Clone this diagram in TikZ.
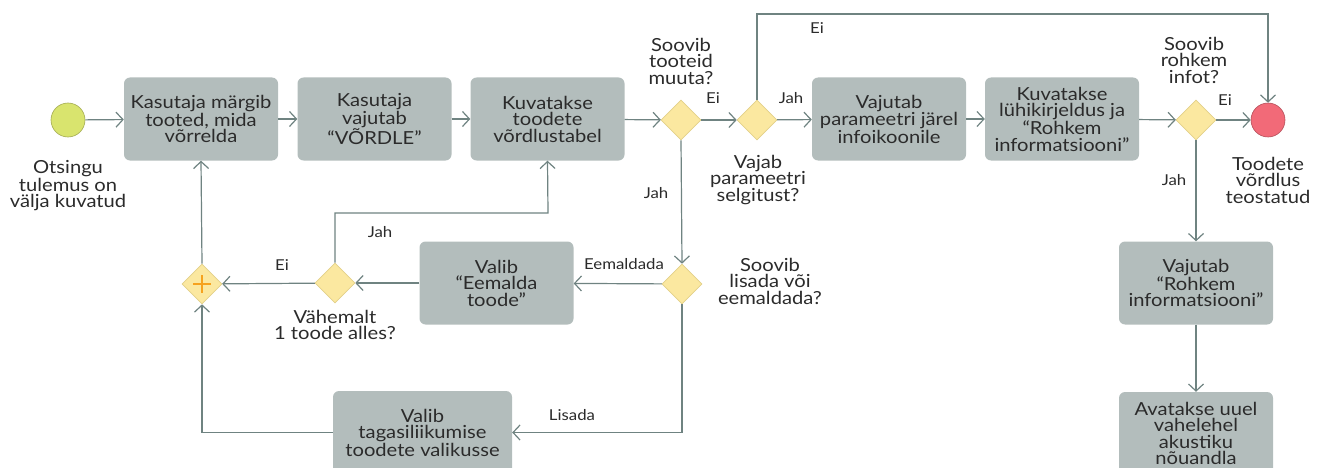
\documentclass[tikz,border=0pt]{standalone}
\usepackage{fontspec}
\setmainfont{Lato}[FakeStretch=1.12]
\usetikzlibrary{shapes.geometric,arrows.meta}
\definecolor{boxgray}{HTML}{B3BDBC}
\definecolor{linegray}{HTML}{6F8381}
\definecolor{gatefill}{HTML}{FBE8A0}
\definecolor{gateline}{HTML}{E2D08A}
\definecolor{startfill}{HTML}{D9E46E}
\definecolor{endfill}{HTML}{F26A78}
\definecolor{plusorange}{HTML}{F6A21E}
\definecolor{txt}{HTML}{2B2B2B}
\begin{document}
\begin{tikzpicture}[
			x=1pt, y=-1pt,
			task/.style={rectangle, rounded corners=6pt, fill=boxgray, minimum width=154pt, minimum height=83pt, align=center, inner sep=0pt, font=\fontsize{18}{16.5}\selectfont, text=txt},
			gate/.style={diamond, aspect=1, minimum size=40pt, inner sep=0pt, fill=gatefill, draw=gateline, line width=0.6pt},
			event/.style={circle, minimum size=34pt, inner sep=0pt, fill=#1, draw=#1!75!black, line width=0.6pt},
			note/.style={align=center, font=\fontsize{18}{16.5}\selectfont, text=txt},
			lbl/.style={font=\fontsize{15}{16}\selectfont, text=txt},
			flow/.style={draw=linegray, line width=1.2pt, -{Straight Barb[length=7pt,width=15pt]}},
			plusmark/.style={draw=plusorange, line width=2.6pt}
		]
		\useasboundingbox (0,0) rectangle (1324,468);

		\node[event=startfill] (start) at (68,120) {};
		\node[note] (startnote) at (68,186) {Otsingu\\tulemus on\\välja kuvatud};
		\node[task] (mark) at (201,119) {Kasutaja märgib\\tooted, mida\\võrrelda};
		\node[task] (press) at (374.5,119) {Kasutaja\\vajutab\\“VÕRDLE”};
		\node[task] (table) at (547.5,119) {Kuvatakse\\toodete\\võrdlustabel};
		\node[gate] (change) at (681,120) {};
		\node[note] (changenote) at (681,61) {Soovib\\tooteid\\muuta?};
		\node[gate] (explain) at (757,120) {};
		\node[note] (explainnote) at (758,180) {Vajab\\parameetri\\selgitust?};
		\node[task] (infoicon) at (889,119) {Vajutab\\parameetri järel\\infoikoonile};
		\node[task] (summary) at (1062,119) {Kuvatakse\\lühikirjeldus ja\\“Rohkem\\informatsiooni”};
		\node[gate] (more) at (1196,120) {};
		\node[note] (morenote) at (1194,60) {Soovib\\rohkem\\infot?};
		\node[event=endfill] (done) at (1268,120) {};
		\node[note] (donenote) at (1268,180) {Toodete\\võrdlus\\teostatud};
		\node[task] (moreinfo) at (1196,283) {Vajutab\\“Rohkem\\informatsiooni”};
		\node[task] (newtab) at (1196,433.5) {Avatakse uuel\\vahelehel\\akustiku\\nõuandla};

		\node[gate] (addremove) at (682,284) {};
		\node[note] (addremovenote) at (770,281) {Soovib\\lisada või\\eemaldada?};
		\node[task] (remove) at (496.5,283) {Valib\\“Eemalda\\toode”};
		\node[gate] (left) at (335,283) {};
		\node[note] (leftnote) at (335,325) {Vähemalt\\1 toode alles?};
		\node[gate] (merge) at (202,284) {};
		\node[task, minimum width=179pt] (goback) at (422.5,432.5) {Valib\\tagasiliikumise\\toodete valikusse};

		\draw[plusmark] (merge.center) ++(-9,0) -- ++(18,0);
		\draw[plusmark] (merge.center) ++(0,-9) -- ++(0,18);

		\coordinate (skip) at (757,14);
		\coordinate (back) at (548,213);

		\draw[flow] (start) -- (mark);
		\draw[flow] (mark) -- (press);
		\draw[flow] (press) -- (table);
		\draw[flow] (table) -- (change);
		\draw[flow] (change) -- (explain);
		\draw[flow] (explain) -- (infoicon);
		\draw[flow] (infoicon) -- (summary);
		\draw[flow] (summary) -- (more);
		\draw[flow] (more) -- (done);
		\draw[flow] (explain.north) -- (skip) -| (done.north);
		\draw[flow] (more.south) -- (moreinfo.north);
		\draw[flow] (moreinfo) -- (newtab);
		\draw[flow] (change.south) -- (addremove.north);
		\draw[flow] (addremove) -- (remove);
		\draw[flow] (remove) -- (left);
		\draw[flow] (left) -- (merge);
		\draw[flow] (left.north) |- (back) -- (table.south);
		\draw[flow] (addremove.south) |- (goback.east);
		\draw[flow] (goback.west) -| (merge.south);
		\draw[flow] (merge.north) -- (mark.south);

		\node[lbl] (eione) at (713,98) {Ei};
		\node[lbl] (jahone) at (791,98) {Jah};
		\node[lbl] (eitwo) at (817,28) {Ei};
		\node[lbl] (eithree) at (1225,100) {Ei};
		\node[lbl] (jahtwo) at (1174,180) {Jah};
		\node[lbl] (jahthree) at (656,193) {Jah};
		\node[lbl] (eemaldada) at (624,264) {Eemaldada};
		\node[lbl] (lisada) at (572,415) {Lisada};
		\node[lbl] (jahfour) at (380,232) {Jah};
		\node[lbl] (eifour) at (282,265) {Ei};
	\end{tikzpicture}
\end{document}
